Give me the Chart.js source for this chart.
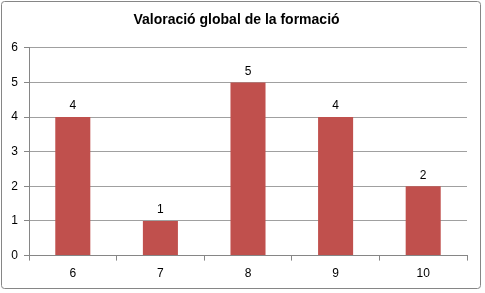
<!DOCTYPE html>
<html lang="ca">
<head>
<meta charset="UTF-8">
<title>Valoració global de la formació</title>
<style>
  body { margin: 0; background: #fff; }
  #wrap { width: 485px; height: 293px; }
</style>
</head>
<body>
<div id="wrap"><canvas id="myChart" width="485" height="293"></canvas></div>
<script src="https://cdn.jsdelivr.net/npm/chart.js@4.4.0/dist/chart.umd.min.js"></script>
<script>
const chartTitle = 'Valoració global de la formació';
const categories = ['6', '7', '8', '9', '10'];
const values = [4, 1, 5, 4, 2];
const yTicks = [0, 1, 2, 3, 4, 5, 6];

// outer frame + value labels on top of the bars
const frameAndLabels = {
  id: 'frameAndLabels',
  beforeDraw(chart) {
    const c = chart.ctx;
    c.save();
    c.fillStyle = '#fff';
    c.fillRect(0, 0, chart.width, chart.height);
    c.strokeStyle = '#868686';
    c.lineWidth = 1;
    c.beginPath();
    c.roundRect(1.5, 1.5, 479, 287, 3);
    c.stroke();
    c.restore();
  },
  afterDatasetsDraw(chart) {
    const c = chart.ctx;
    const meta = chart.getDatasetMeta(0);
    c.save();
    c.font = '12px "Liberation Sans", Arial, sans-serif';
    c.fillStyle = '#000';
    c.textAlign = 'center';
    c.textBaseline = 'bottom';
    meta.data.forEach((bar, i) => {
      c.fillText(String(values[i]), bar.x, bar.y - 5);
    });
    c.restore();
  }
};

const ctx = document.getElementById('myChart').getContext('2d');
const chart = new Chart(ctx, {
  type: 'bar',
  data: {
    labels: categories,
    datasets: [{
      data: values,
      backgroundColor: '#C0504D',
      borderWidth: 0,
      barPercentage: 0.4,
      categoryPercentage: 1
    }]
  },
  options: {
    responsive: false,
    animation: false,
    layout: { padding: { left: 6, right: 18, top: 8, bottom: 6 } },
    plugins: {
      legend: { display: false },
      tooltip: { enabled: false },
      title: {
        display: true,
        text: chartTitle,
        color: '#000',
        font: { family: '"Liberation Sans", Arial, sans-serif', size: 14, weight: 'bold' },
        padding: { top: 4, bottom: 19 }
      }
    },
    scales: {
      x: {
        grid: {
          offset: true,
          drawOnChartArea: false,
          drawTicks: true,
          tickLength: 5,
          color: '#868686'
        },
        border: { color: '#868686' },
        ticks: {
          color: '#000',
          padding: 6,
          font: { family: '"Liberation Sans", Arial, sans-serif', size: 12 }
        }
      },
      y: {
        min: 0,
        max: 6,
        afterBuildTicks(scale) {
          scale.ticks = yTicks.map(v => ({ value: v }));
        },
        afterFit(scale) { scale.width = 23; },
        grid: {
          color: '#A0A0A0',
          tickLength: 5,
          tickColor: '#868686'
        },
        border: { color: '#868686' },
        ticks: {
          color: '#000',
          padding: 6,
          font: { family: '"Liberation Sans", Arial, sans-serif', size: 12 }
        }
      }
    }
  },
  plugins: [frameAndLabels]
});
</script>
</body>
</html>
